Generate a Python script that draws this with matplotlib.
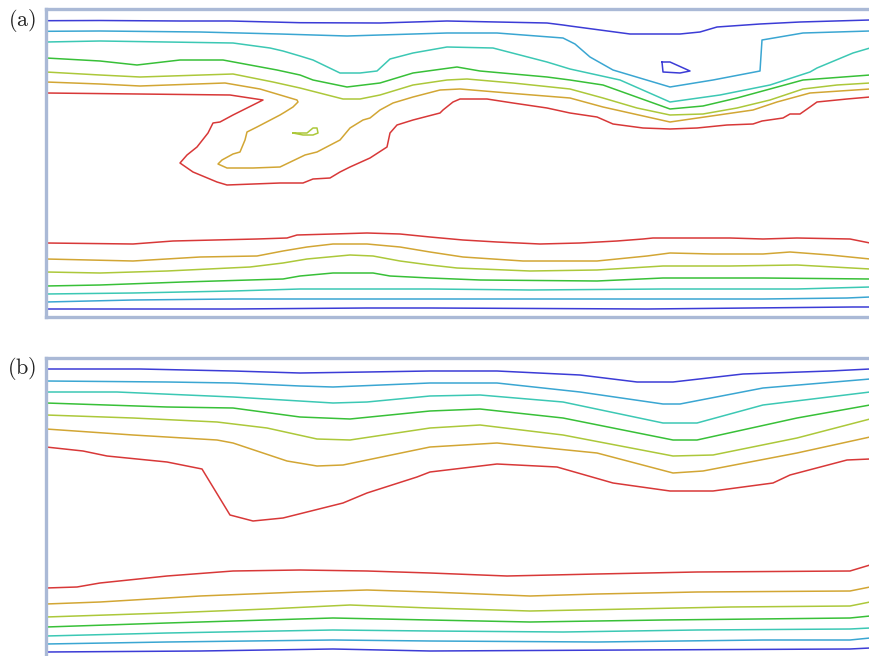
import matplotlib
matplotlib.use("Agg")
import matplotlib.pyplot as plt

# Coordinates: x = distance along channel, y = depth below top wall (arbitrary units)
# Contour level colours (top wall -> centre)
level_colors = ["#3c3cd6", "#3aa6d2", "#3cc8b4", "#38c038", "#acc83a", "#d2a634", "#d83838"]

# ---------------- Panel (a) ----------------
a_top_blue_x = [0, 54, 134, 184, 254, 334, 401, 501, 517, 524, 584, 634, 654, 671, 714, 754, 824]
a_top_blue_y = [11.7, 11.5, 12, 12, 13.7, 14, 12, 14, 16, 17, 25, 25, 23, 18, 15, 13, 11]
a_blue_loop_x = [616, 624, 644, 634, 617, 616]
a_blue_loop_y = [53, 53, 62, 64, 63, 53]
a_top_lblue_x = [0, 54, 154, 234, 301, 401, 451, 517, 529, 544, 567, 624, 667, 714, 716, 757, 824]
a_top_lblue_y = [22.3, 22, 23, 25, 27, 24, 24, 29, 35, 48, 61, 78, 71, 62, 31, 24, 22]
a_top_teal_x = [0, 54, 187, 224, 237, 254, 267, 294, 314, 331, 344, 367, 401, 447, 501, 524, 574, 624,
                674, 724, 764, 771, 807, 824]
a_top_teal_y = [33, 32, 34, 39, 42, 47, 51, 64, 64, 62, 50, 44, 38, 39, 53, 60, 71, 93, 86, 76, 63, 59, 44, 39]
a_top_green_x = [0, 54, 91, 134, 177, 231, 254, 267, 301, 334, 367, 411, 434, 501, 524, 557, 624, 657,
                 691, 757, 824]
a_top_green_y = [49, 52, 56, 51, 51, 61, 66, 71, 78, 74, 64, 58, 62, 68, 71, 76, 100, 97, 89, 71, 66]
a_top_yg_x = [0, 54, 94, 187, 227, 254, 297, 314, 334, 367, 401, 421, 467, 524, 557, 591, 624, 657,
              691, 724, 757, 791, 824]
a_top_yg_y = [63, 66, 68, 65, 73, 79, 90, 90, 86, 76, 71, 70, 74, 80, 89, 99, 106, 105, 99, 91, 80, 76, 74]
a_yg_loop_x = [247, 261, 267, 271, 272, 267, 257, 247]
a_yg_loop_y = [124, 124, 119, 119, 124, 126, 126, 124]
a_top_orange_x = [0, 54, 94, 179, 214, 251, 252, 247, 239, 234, 211, 201, 199, 194, 187, 176, 172, 181,
                  207, 234, 259, 271, 294, 304, 317, 324, 334, 347, 367, 394, 414, 474, 524, 557, 624,
                  707, 731, 764, 824]
a_top_orange_y = [73, 75, 77, 74, 80, 91, 93, 98, 103, 106, 118, 123, 131, 143, 145, 151, 155, 159,
                  159, 158, 146, 143, 131, 119, 111, 109, 101, 94, 88, 81, 80, 85, 89, 98, 113,
                  101, 93, 84, 80]
a_top_red_x = [0, 184, 217, 187, 174, 167, 162, 151, 141, 134, 147, 171, 181, 234, 257, 267, 284, 294,
               304, 324, 341, 344, 351, 367, 394, 397, 407, 414, 441, 467, 501, 524, 551, 567, 597,
               624, 651, 681, 707, 716, 737, 744, 754, 764, 771, 801, 824]
a_top_red_y = [84, 86, 91, 106, 113, 114, 124, 138, 146, 154, 163, 173, 176, 174, 174, 170, 169, 163,
               158, 149, 138, 124, 116, 111, 104, 101, 93, 90, 90, 94, 99, 104, 108, 115, 119,
               120, 119, 116, 115, 112, 109, 105, 105, 98, 93, 90, 88]

a_bot_red_x = [0, 87, 127, 211, 241, 251, 287, 321, 354, 384, 417, 451, 494, 534, 571, 597, 607, 684,
               717, 751, 804, 824]
a_bot_red_y = [234, 235, 232, 230, 229, 226, 225, 224, 225, 228, 231, 233, 235, 234, 232, 230, 229,
               229, 230, 229, 230, 234]
a_bot_orange_x = [0, 87, 154, 211, 237, 261, 287, 321, 354, 384, 417, 477, 551, 601, 624, 667, 717, 744, 784, 824]
a_bot_orange_y = [250, 252, 248, 247, 242, 238, 235, 235, 238, 243, 248, 252, 252, 247, 244, 245, 245, 243, 246, 250]
a_bot_yg_x = [0, 54, 121, 204, 237, 261, 304, 327, 354, 384, 411, 484, 551, 617, 684, 751, 824]
a_bot_yg_y = [263, 264, 262, 258, 254, 250, 246, 247, 252, 256, 259, 262, 261, 257, 257, 256, 260]
a_bot_green_x = [0, 54, 137, 237, 254, 287, 327, 344, 384, 434, 551, 617, 717, 824]
a_bot_green_y = [277, 276, 273, 270, 267, 264, 264, 267, 269, 271, 272, 269, 269, 270]
a_bot_teal_x = [0, 87, 187, 254, 321, 384, 484, 617, 751, 824]
a_bot_teal_y = [285, 284, 282, 280, 280, 280, 281, 280, 280, 278]
a_bot_lblue_x = [0, 87, 187, 254, 384, 551, 717, 801, 824]
a_bot_lblue_y = [293, 291, 290, 290, 290, 290, 290, 289, 288]
a_bot_blue_x = [0, 187, 321, 384, 601, 807, 824]
a_bot_blue_y = [300, 300, 299, 299, 300, 298, 298]

# ---------------- Panel (b) ----------------
b_top_blue_x = [0, 94, 187, 254, 321, 384, 451, 534, 591, 627, 697, 784, 824]
b_top_blue_y = [11, 11, 13, 15, 14, 13, 13, 17, 24, 24, 16, 13, 11]
b_top_lblue_x = [0, 121, 187, 254, 287, 384, 451, 534, 617, 634, 717, 824]
b_top_lblue_y = [23, 24, 25, 28, 29, 25, 25, 34, 46, 46, 30, 21]
b_top_teal_x = [0, 71, 187, 287, 321, 384, 434, 517, 617, 651, 717, 824]
b_top_teal_y = [34, 34, 39, 45, 44, 38, 37, 44, 65, 65, 47, 34]
b_top_green_x = [0, 121, 187, 254, 304, 384, 434, 517, 627, 651, 751, 824]
b_top_green_y = [45, 49, 50, 59, 61, 53, 51, 60, 82, 82, 60, 47]
b_top_yg_x = [0, 87, 171, 221, 271, 304, 384, 434, 517, 627, 667, 751, 824]
b_top_yg_y = [57, 60, 64, 70, 81, 82, 70, 67, 77, 98, 97, 80, 61]
b_top_orange_x = [0, 87, 171, 187, 241, 271, 297, 384, 451, 551, 627, 657, 751, 824]
b_top_orange_y = [71, 77, 82, 85, 103, 108, 107, 89, 85, 95, 115, 113, 95, 79]
b_top_red_x = [0, 37, 61, 121, 156, 184, 207, 237, 297, 321, 371, 384, 451, 511, 567, 624, 667, 727,
               744, 801, 824]
b_top_red_y = [89, 93, 98, 104, 111, 157, 163, 160, 145, 135, 119, 114, 106, 109, 125, 133, 133, 125,
               117, 102, 101]

b_bot_red_x = [0, 31, 54, 121, 187, 254, 321, 384, 461, 551, 651, 804, 824]
b_bot_red_y = [230, 229, 225, 218, 213, 212, 213, 215, 218, 216, 214, 213, 207]
b_bot_orange_x = [0, 54, 154, 254, 321, 384, 484, 551, 651, 804, 824]
b_bot_orange_y = [246, 244, 238, 234, 232, 234, 238, 236, 234, 233, 229]
b_bot_yg_x = [0, 121, 221, 304, 384, 484, 584, 684, 804, 824]
b_bot_yg_y = [259, 255, 251, 247, 250, 253, 251, 249, 248, 244]
b_bot_green_x = [0, 121, 287, 384, 484, 617, 804, 824]
b_bot_green_y = [269, 265, 260, 262, 264, 262, 260, 258]
b_bot_teal_x = [0, 121, 287, 384, 517, 651, 804, 824]
b_bot_teal_y = [278, 275, 272, 273, 274, 272, 271, 270]
b_bot_lblue_x = [0, 121, 287, 384, 551, 717, 804, 824]
b_bot_lblue_y = [286, 284, 282, 283, 284, 282, 282, 280]
b_bot_blue_x = [0, 154, 287, 384, 584, 804, 824]
b_bot_blue_y = [294, 293, 291, 293, 292, 291, 290]

panel_labels = ["(a)", "(b)"]

panel_a = [
    (a_top_blue_x, a_top_blue_y, 0), (a_blue_loop_x, a_blue_loop_y, 0),
    (a_top_lblue_x, a_top_lblue_y, 1), (a_top_teal_x, a_top_teal_y, 2),
    (a_top_green_x, a_top_green_y, 3), (a_top_yg_x, a_top_yg_y, 4),
    (a_yg_loop_x, a_yg_loop_y, 4), (a_top_orange_x, a_top_orange_y, 5),
    (a_top_red_x, a_top_red_y, 6),
    (a_bot_red_x, a_bot_red_y, 6), (a_bot_orange_x, a_bot_orange_y, 5),
    (a_bot_yg_x, a_bot_yg_y, 4), (a_bot_green_x, a_bot_green_y, 3),
    (a_bot_teal_x, a_bot_teal_y, 2), (a_bot_lblue_x, a_bot_lblue_y, 1),
    (a_bot_blue_x, a_bot_blue_y, 0),
]
panel_b = [
    (b_top_blue_x, b_top_blue_y, 0), (b_top_lblue_x, b_top_lblue_y, 1),
    (b_top_teal_x, b_top_teal_y, 2), (b_top_green_x, b_top_green_y, 3),
    (b_top_yg_x, b_top_yg_y, 4), (b_top_orange_x, b_top_orange_y, 5),
    (b_top_red_x, b_top_red_y, 6),
    (b_bot_red_x, b_bot_red_y, 6), (b_bot_orange_x, b_bot_orange_y, 5),
    (b_bot_yg_x, b_bot_yg_y, 4), (b_bot_green_x, b_bot_green_y, 3),
    (b_bot_teal_x, b_bot_teal_y, 2), (b_bot_lblue_x, b_bot_lblue_y, 1),
    (b_bot_blue_x, b_bot_blue_y, 0),
]

plt.rcParams["mathtext.fontset"] = "cm"
fig = plt.figure(figsize=(8.7, 6.56), dpi=100)

W, H = 870.0, 656.0
frame_color = "#aab9d6"
positions = [
    [46 / W, 1 - 317 / H, 827 / W, 308 / H],
    [46 / W, 1 - 666 / H, 827 / W, 308 / H],
]

for pos, lines, label in zip(positions, [panel_a, panel_b], panel_labels):
    ax = fig.add_axes(pos)
    for xs, ys, ci in lines:
        ax.plot(xs, ys, color=level_colors[ci], lw=1.1, solid_joinstyle="round")
    ax.set_xlim(0, 827)
    ax.set_ylim(308, 0)
    ax.set_xticks([])
    ax.set_yticks([])
    for s in ax.spines.values():
        s.set_color(frame_color)
        s.set_linewidth(2.4)
    ax.text(-24 / 827, 1 - 11 / 308, r"$(\mathrm{%s})$" % label[1], transform=ax.transAxes,
            ha="center", va="center", fontsize=16, color="#222222")

fig.savefig("out.png", dpi=100)
